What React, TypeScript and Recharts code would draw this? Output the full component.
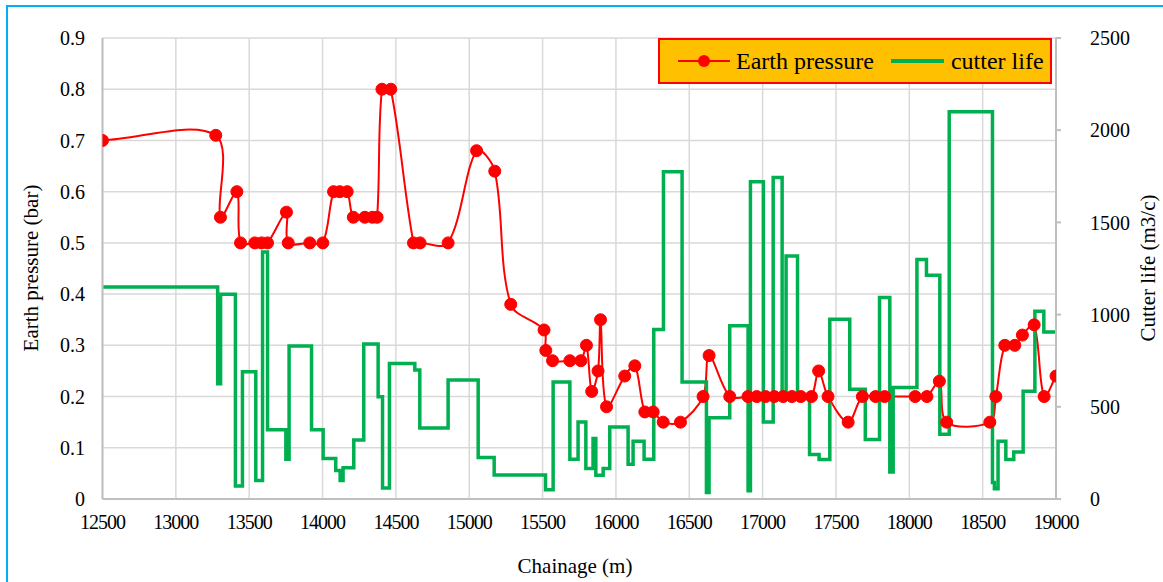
import React from 'react';
import { LineChart, Line, XAxis, YAxis, CartesianGrid, Legend, Label } from 'recharts';

// Earth pressure (bar) vs chainage (m)
const pressureChainage = [
  12500, 13272, 13304, 13416, 13441, 13538, 13584, 13625, 13754, 13766, 13913, 14002,
  14075, 14117, 14168, 14210, 14288, 14340, 14372, 14405, 14465, 14620, 14665, 14856,
  15050, 15174, 15283, 15510, 15522, 15568, 15686, 15761, 15799, 15835, 15878, 15895,
  15936, 16060, 16129, 16197, 16254, 16322, 16440, 16594, 16635, 16776, 16900, 16960,
  17020, 17080, 17140, 17200, 17260, 17333, 17382, 17446, 17583, 17680, 17770, 17832,
  18040, 18120, 18205, 18255, 18549, 18590, 18651, 18719, 18771, 18851, 18919, 19000,
];
const pressureValues = [
  0.70, 0.71, 0.55, 0.60, 0.50, 0.50, 0.50, 0.50, 0.56, 0.50, 0.50, 0.50,
  0.60, 0.60, 0.60, 0.55, 0.55, 0.55, 0.55, 0.80, 0.80, 0.50, 0.50, 0.50,
  0.68, 0.64, 0.38, 0.33, 0.29, 0.27, 0.27, 0.27, 0.30, 0.21, 0.25, 0.35,
  0.18, 0.24, 0.26, 0.17, 0.17, 0.15, 0.15, 0.20, 0.28, 0.20, 0.20, 0.20,
  0.20, 0.20, 0.20, 0.20, 0.20, 0.20, 0.25, 0.20, 0.15, 0.20, 0.20, 0.20,
  0.20, 0.20, 0.23, 0.15, 0.15, 0.20, 0.30, 0.30, 0.32, 0.34, 0.20, 0.24,
];

// Cutter life (m3/c) - step changes at chainage
const lifeChainage = [
  12500, 13285, 13305, 13406, 13454, 13545, 13591, 13625, 13750, 13772, 13925, 14004,
  14090, 14120, 14140, 14213, 14281, 14379, 14409, 14456, 14629, 14663, 14856, 15061,
  15170, 15520, 15572, 15686, 15742, 15795, 15844, 15863, 15913, 15958, 16083, 16117,
  16192, 16258, 16324, 16451, 16617, 16635, 16776, 16901, 16917, 17005, 17072, 17133,
  17160, 17238, 17320, 17385, 17458, 17594, 17700, 17797, 17867, 17890, 18052, 18117,
  18208, 18272, 18567, 18580, 18605, 18658, 18712, 18776, 18856, 18917, 19000,
];
const lifeValues = [
  1150, 625, 1110, 70, 690, 100, 1340, 375, 215, 830, 375, 220,
  155, 100, 170, 320, 840, 555, 60, 735, 700, 385, 645, 225,
  130, 50, 635, 215, 418, 165, 328, 129, 165, 391, 188, 313,
  215, 919, 1775, 635, 35, 440, 940, 45, 1720, 418, 1744, 545,
  1318, 545, 242, 214, 975, 595, 322, 1093, 146, 605, 1299, 1213,
  351, 2100, 90, 55, 313, 214, 255, 584, 1018, 906, 906,
];

const xTicks = [12500, 13000, 13500, 14000, 14500, 15000, 15500, 16000, 16500, 17000, 17500, 18000, 18500, 19000];
const pressureTicks = [0, 0.1, 0.2, 0.3, 0.4, 0.5, 0.6, 0.7, 0.8, 0.9];
const lifeTicks = [0, 500, 1000, 1500, 2000, 2500];

const pressureData = pressureChainage.map((x, i) => ({ x, pressure: pressureValues[i] }));
const lifeData = lifeChainage.map((x, i) => ({ x, life: lifeValues[i] }));

const FONT = '"Liberation Serif", "Times New Roman", serif';
const RED = '#FF0000';
const GREEN = '#00B050';
const GRID = '#D9D9D9';
const AXIS = '#BFBFBF';

// Excel-like smoothed line (chord-weighted Catmull-Rom Bezier)
const excelSmooth = (context: any) => {
  let pts: number[][] = [];
  const dist = (a: number[], b: number[]) => Math.hypot(b[0] - a[0], b[1] - a[1]);
  return {
    areaStart() {},
    areaEnd() {},
    lineStart() {
      pts = [];
    },
    lineEnd() {
      const n = pts.length;
      if (n === 0) return;
      context.moveTo(pts[0][0], pts[0][1]);
      for (let i = 0; i < n - 1; i++) {
        const p0 = pts[i > 0 ? i - 1 : i];
        const p1 = pts[i];
        const p2 = pts[i + 1];
        const p3 = pts[i + 2 < n ? i + 2 : i + 1];
        const d01 = dist(p0, p1);
        const d12 = dist(p1, p2);
        const d23 = dist(p2, p3);
        const w1 = d01 + d12 > 0 ? d12 / (d01 + d12) : 0;
        const w2 = d12 + d23 > 0 ? d12 / (d12 + d23) : 0;
        const k = 1 / 3;
        context.bezierCurveTo(
          p1[0] + (p2[0] - p0[0]) * w1 * k,
          p1[1] + (p2[1] - p0[1]) * w1 * k,
          p2[0] - (p3[0] - p1[0]) * w2 * k,
          p2[1] - (p3[1] - p1[1]) * w2 * k,
          p2[0],
          p2[1]
        );
      }
    },
    point(x: number, y: number) {
      pts.push([+x, +y]);
    },
  };
};

const renderLegend = () => (
  <div
    style={{
      width: 394,
      height: 46,
      boxSizing: 'border-box',
      background: '#FFC000',
      border: '2px solid #FF0000',
      display: 'flex',
      alignItems: 'center',
      fontFamily: FONT,
      fontSize: 24,
      color: '#000',
      whiteSpace: 'nowrap',
    }}
  >
    <svg width={52} height={14} style={{ marginLeft: 18 }}>
      <line x1={0} y1={7} x2={52} y2={7} stroke={RED} strokeWidth={2} />
      <circle cx={26} cy={7} r={6} fill={RED} />
    </svg>
    <span style={{ marginLeft: 6 }}>Earth pressure</span>
    <svg width={53} height={14} style={{ marginLeft: 17 }}>
      <line x1={0} y1={7} x2={53} y2={7} stroke={GREEN} strokeWidth={4} />
    </svg>
    <span style={{ marginLeft: 7 }}>cutter life</span>
  </div>
);

const tickStyle = { fontFamily: FONT, fontSize: 20, fill: '#000' };

export default function App() {
  return (
    <div
      style={{
        position: 'fixed',
        left: 0,
        top: 0,
        width: 1163,
        height: 582,
        overflow: 'hidden',
        background: '#fff',
      }}
    >
      <div
        style={{
          position: 'absolute',
          left: 6,
          top: 5,
          width: 1300,
          height: 800,
          borderTop: '2px solid #00B0F0',
          borderLeft: '2px solid #00B0F0',
        }}
      />
      <div style={{ position: 'absolute', left: 0, top: 0 }}>
        <LineChart width={1163} height={582} margin={{ top: 38, right: 0, bottom: 0, left: 0 }}>
          <CartesianGrid yAxisId="left" stroke={GRID} strokeWidth={1.5} horizontalValues={pressureTicks} verticalValues={xTicks} />
          <XAxis
            type="number"
            dataKey="x"
            domain={[12500, 19000]}
            ticks={xTicks}
            allowDataOverflow
            height={83}
            axisLine={{ stroke: AXIS, strokeWidth: 2 }}
            tickLine={false}
            tickSize={0}
            tickMargin={16}
            tick={{ ...tickStyle, letterSpacing: -1 }}
            interval={0}
          >
            <Label
              content={() => (
                <text x={575} y={566} textAnchor="middle" dominantBaseline="central" fontFamily={FONT} fontSize={21} fill="#000">
                  Chainage (m)
                </text>
              )}
            />
          </XAxis>
          <YAxis
            yAxisId="left"
            orientation="left"
            domain={[0, 0.9]}
            ticks={pressureTicks}
            width={102.5}
            axisLine={{ stroke: AXIS, strokeWidth: 2 }}
            tickLine={false}
            tickSize={0}
            tickMargin={17.5}
            tick={tickStyle}
            interval={0}
            allowDataOverflow
          >
            <Label
              content={() => (
                <text
                  x={31}
                  y={268}
                  transform="rotate(-90 31 268)"
                  textAnchor="middle"
                  dominantBaseline="central"
                  fontFamily={FONT}
                  fontSize={21}
                  fill="#000"
                >
                  Earth pressure (bar)
                </text>
              )}
            />
          </YAxis>
          <YAxis
            yAxisId="right"
            orientation="right"
            domain={[0, 2500]}
            ticks={lifeTicks}
            width={107}
            axisLine={{ stroke: AXIS, strokeWidth: 2 }}
            tickLine={{ stroke: AXIS, strokeWidth: 2 }}
            tickSize={5}
            tickMargin={29}
            tick={{ ...tickStyle, textAnchor: 'start' }}
            interval={0}
            allowDataOverflow
          >
            <Label
              content={() => (
                <text
                  x={1148}
                  y={268}
                  transform="rotate(-90 1148 268)"
                  textAnchor="middle"
                  dominantBaseline="central"
                  fontFamily={FONT}
                  fontSize={21}
                  fill="#000"
                >
                  Cutter life (m3/c)
                </text>
              )}
            />
          </YAxis>
          <Legend
            content={renderLegend}
            layout="vertical"
            align="center"
            verticalAlign="middle"
            wrapperStyle={{ left: 658, top: 38, width: 394, height: 46 }}
          />
          <Line
            yAxisId="left"
            data={pressureData}
            dataKey="pressure"
            name="Earth pressure"
            type={excelSmooth as any}
            stroke={RED}
            strokeWidth={2}
            dot={{ r: 6, fill: RED, stroke: RED, strokeWidth: 1 }}
            activeDot={false}
            isAnimationActive={false}
          />
          <Line
            yAxisId="right"
            data={lifeData}
            dataKey="life"
            name="cutter life"
            type="stepAfter"
            stroke={GREEN}
            strokeWidth={3.5}
            dot={false}
            activeDot={false}
            isAnimationActive={false}
          />
        </LineChart>
      </div>
    </div>
  );
}
